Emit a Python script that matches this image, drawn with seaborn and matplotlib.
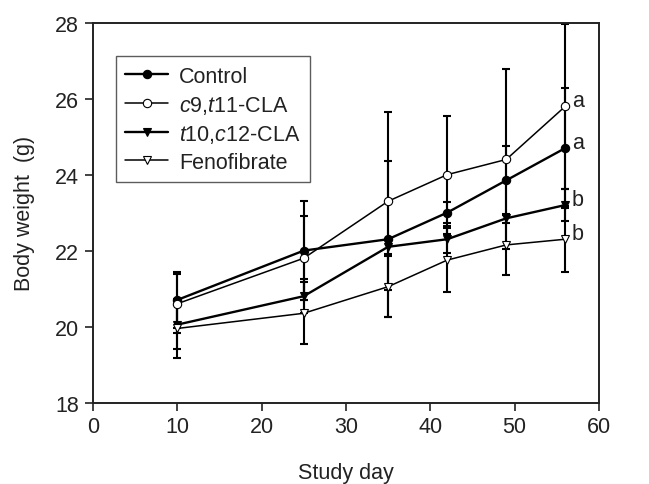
import numpy as np
import pandas as pd
import matplotlib
matplotlib.use("Agg")
import matplotlib.pyplot as plt
import seaborn as sns

# ── Data ──
days = [10, 25, 35, 42, 49, 56]

control = [20.70, 22.00, 22.30, 23.00, 23.85, 24.70]
control_err = [0.75, 1.30, 2.05, 0.28, 0.90, 1.58]

c9t11 = [20.60, 21.80, 23.30, 24.00, 24.40, 25.80]
c9t11_err = [0.78, 1.10, 2.35, 1.55, 2.37, 2.17]

t10c12 = [20.05, 20.80, 22.10, 22.30, 22.85, 23.20]
t10c12_err = [0.65, 0.45, 0.18, 0.35, 0.12, 0.43]

feno = [19.95, 20.35, 21.05, 21.75, 22.15, 22.30]
feno_err = [0.77, 0.82, 0.80, 0.85, 0.80, 0.87]

group_names = ["Control", "$c$9,$t$11-CLA", "$t$10,$c$12-CLA", "Fenofibrate"]
letters = ["a", "a", "b", "b"]

# ── Style ──
sns.set_style("ticks")
plt.rcParams["font.family"] = ["Liberation Sans", "DejaVu Sans"]
plt.rcParams["mathtext.fontset"] = "custom"
plt.rcParams["mathtext.it"] = "Liberation Sans:italic"
plt.rcParams["mathtext.rm"] = "Liberation Sans"

FS = 15.5
TXT = "#222222"

fig = plt.figure(figsize=(6.49, 4.85), dpi=100)
ax = fig.add_axes([0.143, 0.168, 0.780, 0.783])

series = [
    (control, control_err, "o", "black", 1.7),
    (c9t11, c9t11_err, "o", "white", 1.1),
    (t10c12, t10c12_err, "v", "black", 1.7),
    (feno, feno_err, "v", "white", 1.1),
]

for name, (vals, errs, mk, face, lw) in zip(group_names, series):
    df = pd.DataFrame({"day": days, "bw": vals})
    ax.errorbar(days, vals, yerr=errs, fmt="none", ecolor="black",
                elinewidth=1.5, capsize=3, capthick=1.5, zorder=1)
    sns.lineplot(data=df, x="day", y="bw", ax=ax, color="black",
                 linewidth=lw, marker=mk, markersize=6,
                 markerfacecolor=face, markeredgecolor="black",
                 markeredgewidth=0.8, label=name, zorder=3)

for vals, let in zip([control, c9t11, t10c12, feno], letters):
    ax.text(56.8, vals[-1] + 0.15, let, fontsize=FS, color=TXT,
            ha="left", va="center")

ax.set_xlim(0, 60)
ax.set_ylim(18, 28)
ax.set_xticks(range(0, 61, 10))
ax.set_yticks(range(18, 29, 2))
ax.tick_params(direction="out", length=6, width=1.2, labelsize=FS,
               colors=TXT, pad=4)
for sp in ax.spines.values():
    sp.set_visible(True)
    sp.set_linewidth(1.4)
    sp.set_color(TXT)

ax.set_xlabel("Study day", fontsize=FS, color=TXT, labelpad=18)
ax.set_ylabel("Body weight  (g)", fontsize=FS, color=TXT, labelpad=14)

leg = ax.legend(loc="upper left", bbox_to_anchor=(0.045, 0.912),
                fontsize=FS, frameon=True, fancybox=False,
                handlelength=2.0, borderpad=0.45, labelspacing=0.32,
                handletextpad=0.5, borderaxespad=0)
leg.get_frame().set_edgecolor("#333333")
leg.get_frame().set_linewidth(1.0)
for t in leg.get_texts():
    t.set_color(TXT)

fig.savefig("out.png", dpi=100)
